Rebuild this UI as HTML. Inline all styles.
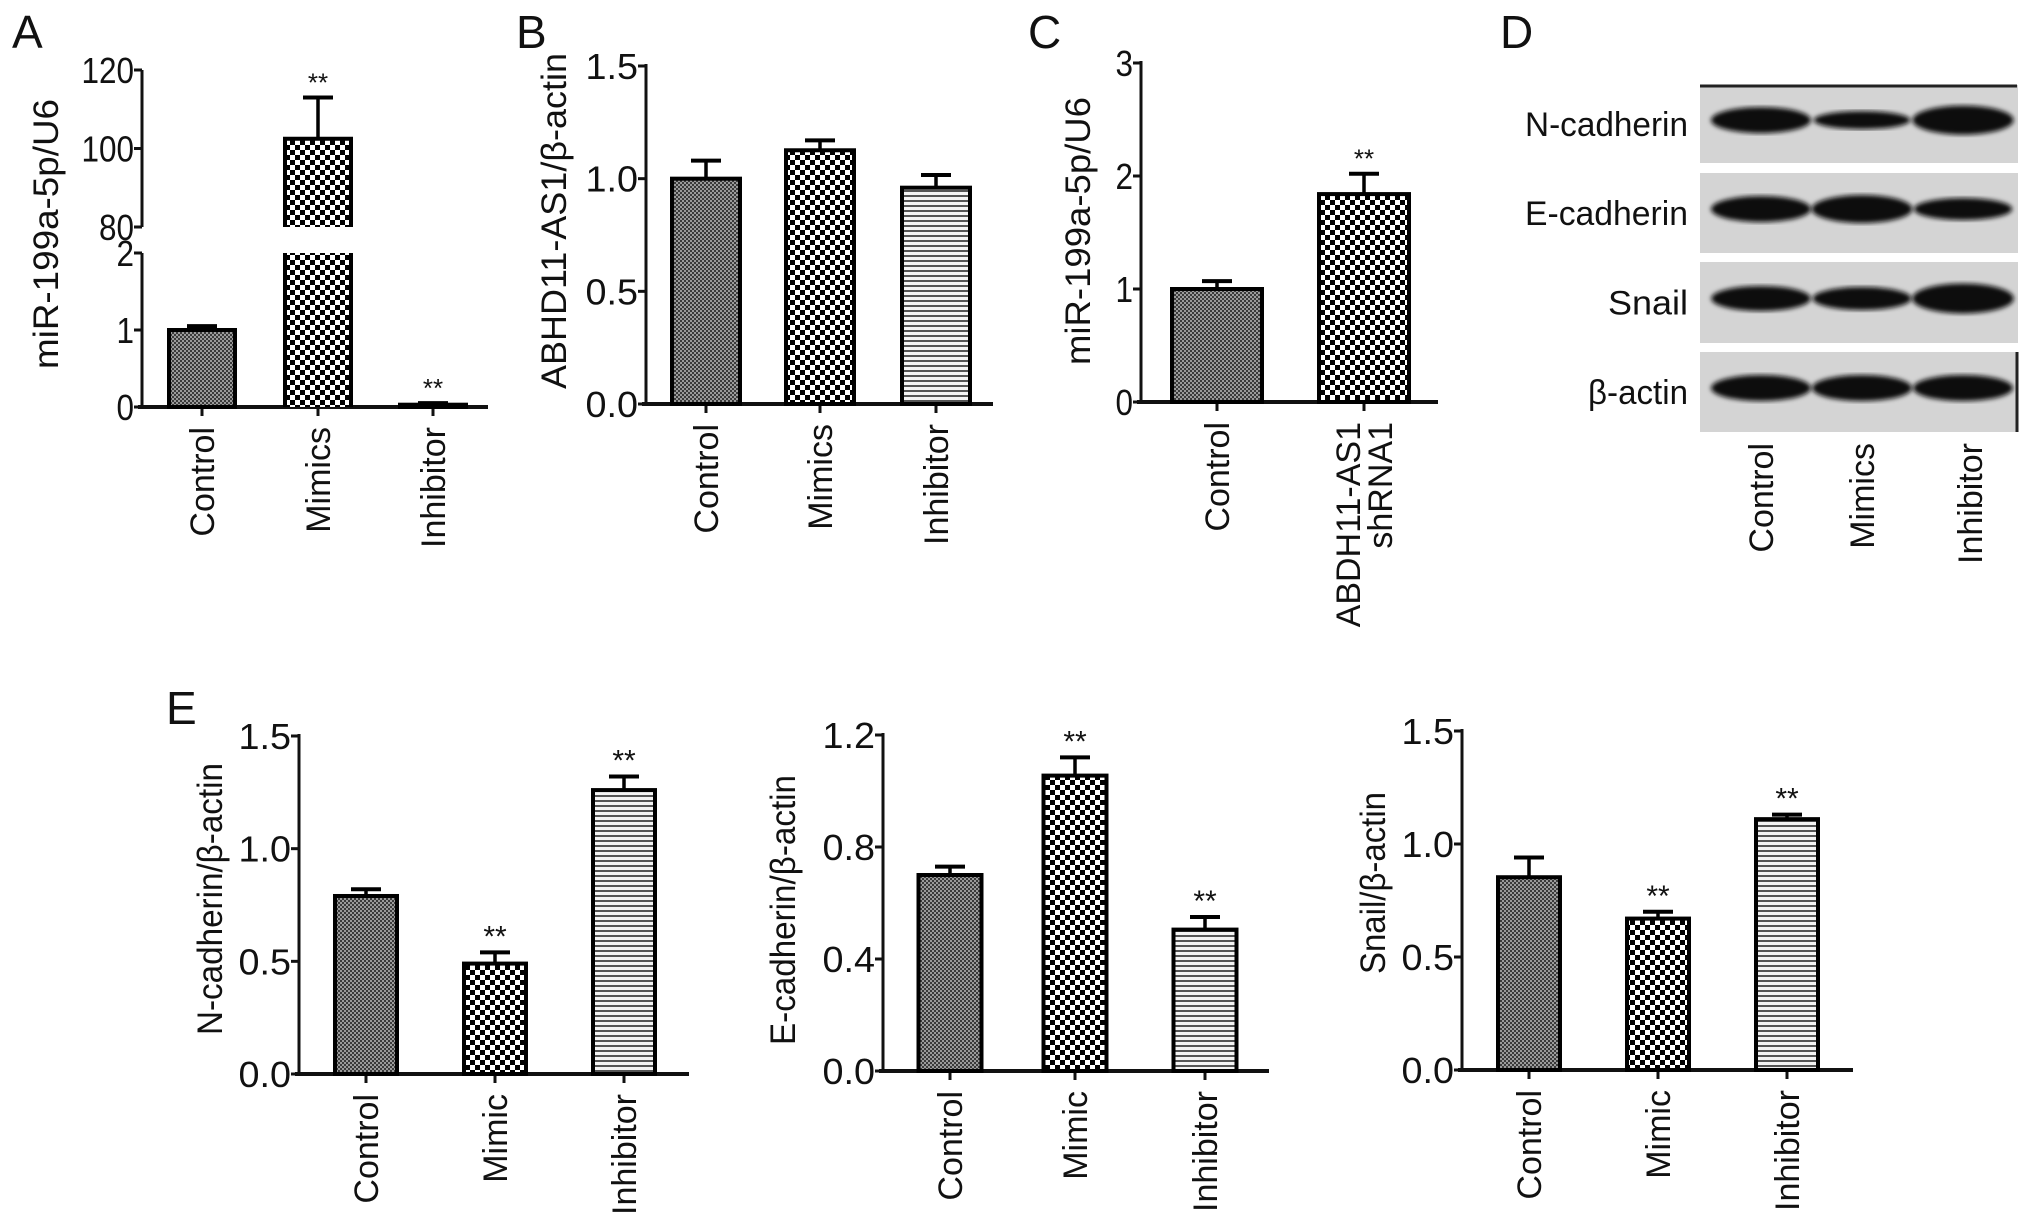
<!DOCTYPE html>
<html><head><meta charset="utf-8"><style>
html,body{margin:0;padding:0;background:#fff}
svg{display:block}
text{font-family:"Liberation Sans",Arial,sans-serif;fill:#111}
</style></head><body>
<svg id="fig" width="2032" height="1226" viewBox="0 0 2032 1226" xmlns="http://www.w3.org/2000/svg">
<defs>
<pattern id="pCtrl" width="4" height="4" patternUnits="userSpaceOnUse"><rect width="4" height="4" fill="#9a9a9a"/><rect width="2" height="2" fill="#3a3a3a"/><rect x="2" y="2" width="2" height="2" fill="#3a3a3a"/></pattern>
<pattern id="pMim" width="10" height="10" patternUnits="userSpaceOnUse"><rect width="10" height="10" fill="#fff"/><rect width="5" height="5" fill="#000"/><rect x="5" y="5" width="5" height="5" fill="#000"/></pattern>
<pattern id="pInh" width="10" height="5" patternUnits="userSpaceOnUse"><rect width="10" height="5" fill="#f4f4f4"/><rect y="0" width="10" height="2" fill="#555"/></pattern>
<filter id="blur"><feGaussianBlur stdDeviation="2.5"/></filter>
</defs>
<g id="root"></g>
</svg>
<script>
// ---- Panel data ----
const catsA = ["Control","Mimics","Inhibitor"];
const valsA = [1.0, 102.5, 0.03];
const errA = [1.05, 113, 0.05];
const starsA = [false, true, true];

const catsB = ["Control","Mimics","Inhibitor"];
const valsB = [1.0, 1.126, 0.96];
const errB = [1.08, 1.17, 1.016];
const ticksB = ["0.0","0.5","1.0","1.5"];

const catsC = ["Control","ABDH11-AS1|shRNA1"];
const valsC = [1.0, 1.84];
const errC = [1.07, 2.02];
const ticksC = ["0","1","2","3"];

const catsE = ["Control","Mimic","Inhibitor"];
const valsN = [0.79, 0.49, 1.26];
const errN = [0.82, 0.54, 1.32];
const ticksN = ["0.0","0.5","1.0","1.5"];
const valsEc = [0.70, 1.055, 0.505];
const errEc = [0.73, 1.12, 0.55];
const ticksEc = ["0.0","0.4","0.8","1.2"];
const valsS = [0.853, 0.67, 1.11];
const errS = [0.94, 0.70, 1.13];
const ticksS = ["0.0","0.5","1.0","1.5"];

const blotRows = ["N-cadherin","E-cadherin","Snail","β-actin"];
const blotCats = ["Control","Mimics","Inhibitor"];
const bandIntensity = [[1.0,0.6,1.15],[1.0,1.1,0.8],[0.95,0.85,1.2],[1.0,1.0,1.0]];

const NS="http://www.w3.org/2000/svg";
const root=document.getElementById('root');
function el(tag,attrs,parent){const e=document.createElementNS(NS,tag);for(const k in attrs)e.setAttribute(k,attrs[k]);(parent||root).appendChild(e);return e;}
function txt(s,attrs,parent){const t=el('text',attrs,parent);t.textContent=s;return t;}
const fills=["url(#pCtrl)","url(#pMim)","url(#pInh)"];
function tickLabel(t,x,yy,g){
  const l=txt(t,{x:x,y:yy+13,'text-anchor':'end','font-size':36,textLength:t.length*17.5,lengthAdjust:'spacingAndGlyphs'},g);
  
  
}
function yTitle(s,x,y,len,g){
  const yt=txt(s,{x:0,y:0,'text-anchor':'middle','font-size':35,textLength:len,lengthAdjust:'spacingAndGlyphs',transform:`translate(${x},${y}) rotate(-90)`},g);
  
  
}

function chart(o){
  const g=el('g',{});
  
  
  const y=v=>o.y0+(o.y1-o.y0)*(v-o.min)/(o.max-o.min);
  const ax=el('line',{x1:o.ax,y1:o.y1-2,x2:o.ax,y2:o.y0,stroke:'#111','stroke-width':3},g);
  
  
  const bl=el('line',{x1:o.ax-4,y1:o.y0,x2:o.xEnd,y2:o.y0,stroke:'#111','stroke-width':4},g);
  
  
  o.ticks.forEach(t=>{const v=parseFloat(t),yy=y(v);
    el('line',{x1:o.ax-8,y1:yy,x2:o.ax,y2:yy,stroke:'#111','stroke-width':3},g);
    tickLabel(t,o.ax-8,yy,g);
  });
  o.cats.forEach((c,i)=>{
    const cx=o.xs[i], w=o.bw, top=y(o.vals[i]);
    el('line',{x1:cx,y1:o.y0,x2:cx,y2:o.y0+9,stroke:'#111','stroke-width':3},g);
    const b=el('rect',{x:cx-w/2,y:top,width:w,height:o.y0-top,fill:fills[o.pat[i]],stroke:'#000','stroke-width':4},g);
    
    
    const et=y(o.err[i]);
    el('line',{x1:cx,y1:top,x2:cx,y2:et,stroke:'#000','stroke-width':3.5},g);
    el('line',{x1:cx-15,y1:et,x2:cx+15,y2:et,stroke:'#000','stroke-width':4},g);
    if(o.stars[i]){const s=txt('**',{x:cx,y:et-6,'text-anchor':'middle','font-size':o.starSize||26,fill:o.starColor},g);
      
      }
    const parts=c.split('|');
    parts.forEach((p,k)=>{
      const off=(k-(parts.length-1)/2)*32;
      const l=txt(p,{x:0,y:0,'text-anchor':'end','font-size':34,transform:`translate(${cx+off+12},${o.y0+20}) rotate(-90)`},g);
      
      
    });
  });
  yTitle(o.title,o.tx,o.ty,o.tlen,g);
  return {g,y};
}
function letter(s,x,yy){const t=txt(s,{x:x,y:yy,'font-size':46},root);
  
  }

// ---- Panel A (broken axis) ----
(function(){
  const g=el('g',{});
  
  
  const ax=142, lowY=v=>407-(407-253)*v/2, upY=v=>227-(227-70)*(v-80)/40;
  const yv=v=>v<=2?lowY(v):upY(v);
  el('line',{x1:ax,y1:405,x2:ax,y2:253,stroke:'#111','stroke-width':3},g);
  el('line',{x1:ax,y1:227,x2:ax,y2:70,stroke:'#111','stroke-width':3},g);
  el('line',{x1:ax-4,y1:407,x2:488,y2:407,stroke:'#111','stroke-width':4},g);
  [["0",0],["1",1],["2",2]].forEach(([t,v])=>{const yy=lowY(v);el('line',{x1:ax-8,y1:yy,x2:ax,y2:yy,stroke:'#111','stroke-width':3},g);
    tickLabel(t,ax-8,yy,g);});
  [["80",80],["100",100],["120",120]].forEach(([t,v])=>{const yy=upY(v);el('line',{x1:ax-8,y1:yy,x2:ax,y2:yy,stroke:'#111','stroke-width':3},g);
    tickLabel(t,ax-8,yy,g);});
  const xs=[202,318,433];
  catsA.forEach((c,i)=>{
    const cx=xs[i],w=66,v=valsA[i];
    el('line',{x1:cx,y1:407,x2:cx,y2:416,stroke:'#111','stroke-width':3},g);
    let b;
    if(v<=2){b=el('rect',{x:cx-w/2,y:lowY(v),width:w,height:407-lowY(v),fill:fills[i],stroke:'#000','stroke-width':4},g);}
    else{
      el('rect',{x:cx-w/2,y:253,width:w,height:154,fill:fills[i]},g);
      el('line',{x1:cx-w/2,y1:253,x2:cx-w/2,y2:407,stroke:'#000','stroke-width':4},g);
      el('line',{x1:cx+w/2,y1:253,x2:cx+w/2,y2:407,stroke:'#000','stroke-width':4},g);
      b=el('rect',{x:cx-w/2,y:upY(v),width:w,height:227-upY(v),fill:fills[i]},g);
      el('path',{d:`M${cx-w/2},227 V${upY(v)} H${cx+w/2} V227`,fill:'none',stroke:'#000','stroke-width':4},g);
    }
    
    
    const top=yv(v),et=yv(errA[i]);
    el('line',{x1:cx,y1:top,x2:cx,y2:et,stroke:'#000','stroke-width':3.5},g);
    el('line',{x1:cx-15,y1:et,x2:cx+15,y2:et,stroke:'#000','stroke-width':4},g);
    if(starsA[i]){const s=txt('**',{x:cx,y:et-6,'text-anchor':'middle','font-size':26},g);
      
      }
    const l=txt(c,{x:0,y:0,'text-anchor':'end','font-size':34,transform:`translate(${cx+12},427) rotate(-90)`},g);
    
    
  });
  yTitle('miR-199a-5p/U6',58,234,270,g);
})();
letter('A',12,48);

chart({name:'panel-b-chart',ax:646,y0:404,y1:66,min:0,max:1.5,xEnd:993,ticks:ticksB,cats:catsB,vals:valsB,err:errB,stars:[0,0,0],pat:[0,1,2],xs:[706,820,936],bw:68,title:'ABHD11-AS1/β-actin',tx:566,ty:221,tlen:336,starColor:'#111'});
letter('B',516,48);

chart({name:'panel-c-chart',ax:1141,y0:402,y1:63,min:0,max:3,xEnd:1438,ticks:ticksC,cats:catsC,vals:valsC,err:errC,stars:[0,1],pat:[0,1],xs:[1217,1364],bw:90,title:'miR-199a-5p/U6',tx:1090,ty:231,tlen:268,starColor:'#111'});
letter('C',1028,48);

// ---- Panel D blots ----
(function(){
  const g=el('g',{});
  
  
  const boxes=[[85,163],[173,253],[262,343],[352,432]];
  const lanes=[1761,1862,1963];
  const lw=[163,163,80,100];
  blotRows.forEach((r,i)=>{
    const [t,b]=boxes[i];
    const box=el('rect',{x:1700,y:t,width:318,height:b-t,fill:'#d4d4d4'},g);
    
    
    const cy=t+(b-t)*0.45;
    lanes.forEach((lx,j)=>{
      const k=bandIntensity[i][j];
      const band=el('ellipse',{cx:lx,cy:cy,rx:46+4*k,ry:10*k+3,fill:'#111',filter:'url(#blur)'},g);
      
      
    });
    const l=txt(r,{x:1688,y:(t+b)/2+12,'text-anchor':'end','font-size':34,textLength:lw[i],lengthAdjust:'spacingAndGlyphs'},g);
    
    
  });
  el('line',{x1:1700,y1:86,x2:2017,y2:86,stroke:'#222','stroke-width':3},g);
  el('line',{x1:2017,y1:352,x2:2017,y2:432,stroke:'#222','stroke-width':3},g);
  blotCats.forEach((c,j)=>{
    const l=txt(c,{x:0,y:0,'text-anchor':'end','font-size':34,transform:`translate(${[1761,1862,1970][j]+12},443) rotate(-90)`},g);
    
    
  });
})();
letter('D',1500,48);

// ---- Panel E ----
chart({name:'n-cadherin-chart',ax:299,y0:1074,y1:736,min:0,max:1.5,xEnd:689,ticks:ticksN,cats:catsE,vals:valsN,err:errN,stars:[0,1,1],pat:[0,1,2],xs:[366,495,624],bw:62,title:'N-cadherin/β-actin',tx:222,ty:899,tlen:272,starColor:'#777',starSize:30});
chart({name:'e-cadherin-chart',ax:883,y0:1071,y1:735,min:0,max:1.2,xEnd:1269,ticks:ticksEc,cats:catsE,vals:valsEc,err:errEc,stars:[0,1,1],pat:[0,1,2],xs:[950,1075,1205],bw:63,title:'E-cadherin/β-actin',tx:795,ty:910,tlen:270,starColor:'#777',starSize:30});
chart({name:'snail-chart',ax:1462,y0:1070,y1:731,min:0,max:1.5,xEnd:1853,ticks:ticksS,cats:catsE,vals:valsS,err:errS,stars:[0,1,1],pat:[0,1,2],xs:[1529,1658,1787],bw:62,title:'Snail/β-actin',tx:1385,ty:883,tlen:182,starColor:'#777',starSize:30});
letter('E',166,724);
</script>
</body></html>
